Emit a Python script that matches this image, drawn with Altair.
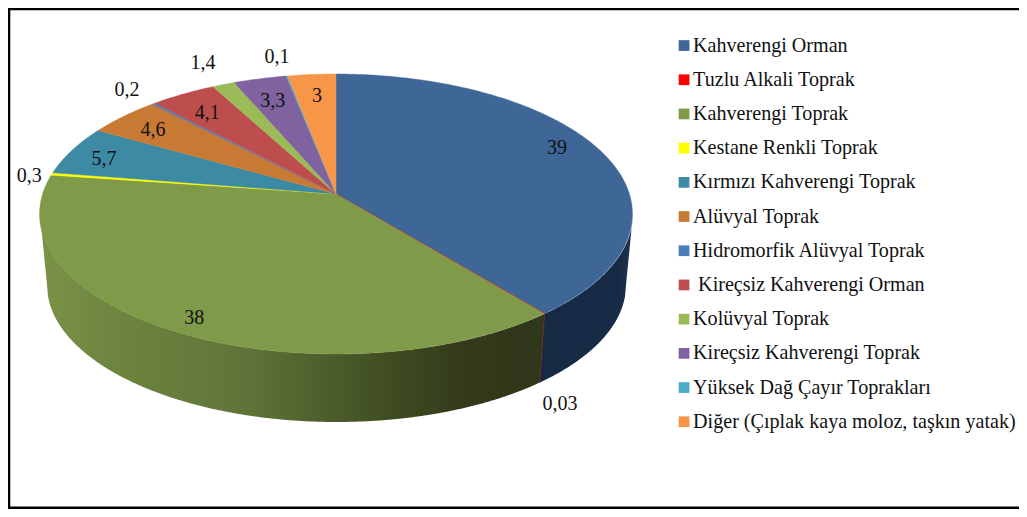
import numpy as np
import pandas as pd
import altair as alt

# ---------- data ----------
categories = ["Kahverengi Orman", "Tuzlu Alkali Toprak", "Kahverengi Toprak", "Kestane Renkli Toprak",
              "Kırmızı Kahverengi Toprak", "Alüvyal Toprak", "Hidromorfik Alüvyal Toprak",
              "\u200c\u00a0Kireçsiz Kahverengi Orman", "Kolüvyal Toprak", "Kireçsiz Kahverengi Toprak",
              "Yüksek Dağ Çayır Toprakları", "Diğer (Çıplak kaya moloz, taşkın yatak)"]
values = [39, 0.03, 38, 0.3, 5.7, 4.6, 0.2, 4.1, 1.4, 3.3, 0.1, 3]
value_labels = ["39", "0,03", "38", "0,3", "5,7", "4,6", "0,2", "4,1", "1,4", "3,3", "0,1", "3"]
colors = ["#3e6797", "#ff0000", "#7f9a48", "#ffff00", "#3c8aa3", "#c87a35", "#4a7ebb",
          "#be4e4e", "#9bbb59", "#7f629f", "#4bacc6", "#f79646"]

# ---------- layout: label placement in the pie's own polar frame ----------
label_angle = [66, 153.5, 208.1, 277.2, 287.9, 306.8, 316.8, 323.4, 334.6, 342.4, 348.6, 354.8]
label_radius = [.866, 1.404, .908, 1.074, .862, .835, 1.167, .804, 1.224, .788, 1.189, .80]

# perspective disc -> picture coordinates
AX, AY, RA, RB, K = 336.0, 194.0, 293.4, 137.1, 1 / 7
TOP = (336.5, 214.0, 296.5, 140.0)   # top rim ellipse
BOT = (336.5, 285.0, 289.5, 137.0)   # bottom rim ellipse

def project(deg, r=1.0):
    t = np.radians(deg)
    u, v = r * np.sin(t), r * np.cos(t)
    d = 1 + K * v
    return AX + RA * u / d, AY - RB * v / d

def slices(poly):
    """vertical slices of a convex polygon"""
    xs = sorted(set(round(p[0], 3) for p in poly))
    rows = []
    n = len(poly)
    for x in xs:
        ys = []
        for i in range(n):
            (x0, y0), (x1, y1) = poly[i], poly[(i + 1) % n]
            lo, hi = min(x0, x1), max(x0, x1)
            if lo - 1e-3 <= x <= hi + 1e-3:
                if abs(x1 - x0) < 1e-6:
                    ys += [y0, y1]
                else:
                    ys.append(y0 + (y1 - y0) * (x - x0) / (x1 - x0))
        rows.append((x, min(ys), max(ys)))
    return rows

total = sum(values)
edges = np.concatenate([[0], np.cumsum(values)]) * 360 / total

wedge_rows = []
for i, cat in enumerate(categories):
    a0, a1 = edges[i], edges[i + 1]
    ang = np.concatenate([[a0], np.arange(np.ceil(a0), a1, 1.0), [a1]])
    poly = [(AX, AY)] + [project(a) for a in ang]
    for x, y0, y1 in slices(poly):
        wedge_rows.append(dict(cat=cat, x=x, y=y0, y2=y1))
wedges = pd.DataFrame(wedge_rows)

def rim(ell, x):
    cx, cy, a, b = ell
    return cy + b * np.sqrt(np.clip(1 - ((x - cx) / a) ** 2, 0, 1))

# boundary between the blue and the green front walls
bx_top, by_top = project(edges[1])
nx = (bx_top - TOP[0]) / TOP[2]
bx_bot = BOT[0] + nx * BOT[2]
by_bot = rim(BOT, bx_bot)

def wall_bottom(x):
    lx, rx = TOP[0] - TOP[2], TOP[0] + TOP[2]
    blx, brx = BOT[0] - BOT[2], BOT[0] + BOT[2]
    if x < blx:
        return TOP[1] + (BOT[1] - TOP[1]) * (x - lx) / (blx - lx)
    if x > brx:
        return TOP[1] + (BOT[1] - TOP[1]) * (rx - x) / (rx - brx)
    return rim(BOT, x)

gx = np.unique(np.concatenate([np.arange(40, 634, 1.0), [bx_top, bx_bot]]))
green = []
for x in gx[gx <= bx_top]:
    b = wall_bottom(x)
    if x > bx_bot:
        b = by_top + (by_bot - by_top) * (bx_top - x) / (bx_top - bx_bot)
    green.append(dict(x=x, y=rim(TOP, x), y2=b))
green = pd.DataFrame(green)
blue = []
for x in gx[gx >= bx_bot]:
    t = rim(TOP, x)
    if x < bx_top:
        t = by_top + (by_bot - by_top) * (bx_top - x) / (bx_top - bx_bot)
    blue.append(dict(x=x, y=t, y2=wall_bottom(x)))
blue = pd.DataFrame(blue)

g_stops = [(40, "#7b9347"), (100, "#6f8740"), (250, "#5f7338"), (340, "#4a5a29"),
           (400, "#3d4a20"), (470, "#33391a"), (546, "#30371a")]
g0, g1 = green.x.min(), green.x.max()
green_grad = alt.Gradient(gradient="linear", x1=0, x2=1, y1=0, y2=0,
                          stops=[alt.GradientStop(offset=min(1, (x - g0) / (g1 - g0)), color=c) for x, c in g_stops])
blue_grad = alt.Gradient(gradient="linear", x1=0, x2=1, y1=0, y2=0,
                         stops=[alt.GradientStop(offset=0, color="#172a44"),
                                alt.GradientStop(offset=.85, color="#182b46"),
                                alt.GradientStop(offset=1, color="#1d3352")])

label_xy = [project(a, r) for a, r in zip(label_angle, label_radius)]
labels = pd.DataFrame(dict(t=value_labels, x=[p[0] for p in label_xy], y=[p[1] for p in label_xy]))

W, H = 1011, 501
X = alt.Scale(domain=[8, 8 + W], range=[0, W], nice=False, zero=False)
Y = alt.Scale(domain=[8 + H, 8], nice=False, zero=False)
xe = alt.X("x:Q", scale=X, axis=None)
ye = alt.Y("y:Q", scale=Y, axis=None)
y2e = alt.Y2("y2:Q")

frame = alt.Chart(pd.DataFrame({"a": [0]})).mark_rect(fill="white", stroke="#000000", strokeWidth=2.6).encode(
    x=alt.value(1), x2=alt.value(W + 30), y=alt.value(1), y2=alt.value(H - 1.3))

wall_g = alt.Chart(green).mark_area(color=green_grad).encode(x=xe, y=ye, y2=y2e)
wall_b = alt.Chart(blue).mark_area(color=blue_grad).encode(x=xe, y=ye, y2=y2e)
seam = alt.Chart(pd.DataFrame(dict(x=[bx_top], y=[by_top], x2=[bx_bot], y2=[by_bot]))).mark_rule(
    color="#6e1c1c", strokeWidth=0.8).encode(x=xe, y=ye, x2="x2:Q", y2=y2e)

cscale = alt.Scale(domain=categories, range=colors)
top = alt.Chart(wedges).mark_area(strokeWidth=0.45, interpolate="linear").encode(
    x=xe, y=ye, y2=y2e,
    color=alt.Color("cat:N", sort=categories, scale=cscale,
                    legend=alt.Legend(orient="none", legendX=666, legendY=27.5, title=None,
                                      symbolType="square", symbolSize=115, symbolStrokeWidth=0,
                                      labelFont="Liberation Serif", labelFontSize=20.1, labelColor="#111111",
                                      labelOffset={"expr": "-1"}, rowPadding=13.2, labelLimit=400, padding=0)),
    stroke=alt.Color("cat:N", sort=categories, scale=cscale, legend=None))

text = alt.Chart(labels).mark_text(font="Liberation Serif", fontSize=20, color="#111111").encode(
    x=xe, y=ye, text="t:N")

chart = alt.layer(frame, wall_g, wall_b, seam, top, text).properties(
    width=W, height=H, padding=0, autosize=alt.AutoSizeParams(type="none")
).configure_view(stroke=None)

chart.save("out.html", embed_options={"renderer": "svg", "actions": False})
